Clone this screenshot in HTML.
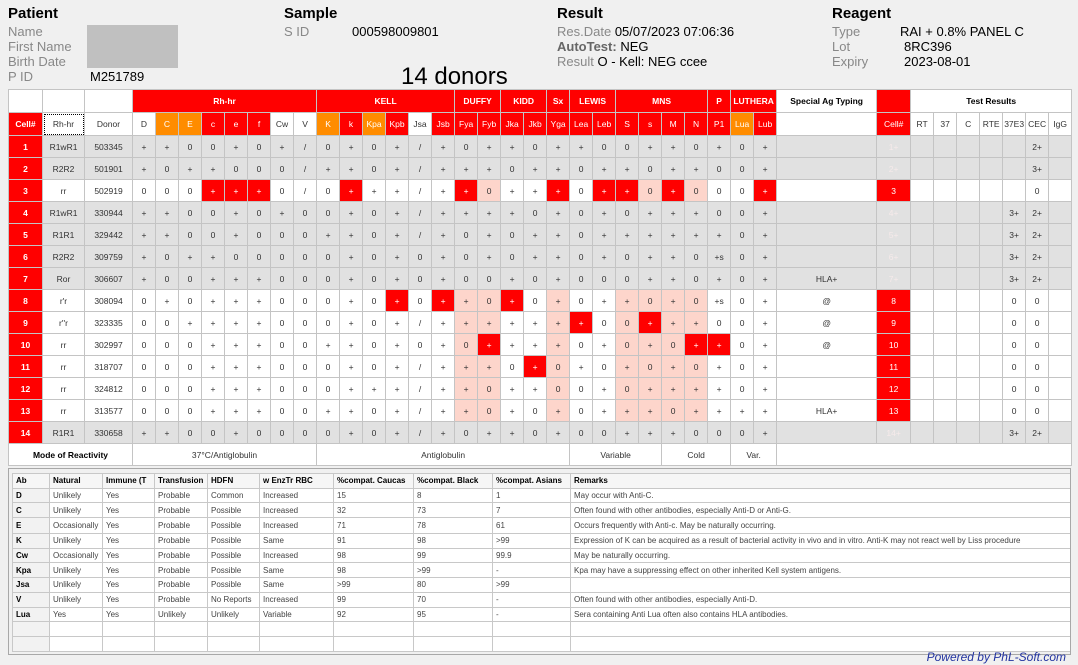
<!DOCTYPE html>
<html><head><meta charset="utf-8">
<style>
body{margin:0;width:1078px;height:665px;background:#f0f0f0;font-family:"Liberation Sans",sans-serif;position:relative;overflow:hidden}
.a{position:absolute;white-space:nowrap}
.h{font-weight:bold;font-size:15px;color:#000}
.l{font-size:13px;color:#888}
.v{font-size:13px;color:#000}
#m{position:absolute;left:8px;top:89px;border-collapse:collapse;table-layout:fixed;width:1063px;font-size:8.5px;color:#333;border:1px solid #a0a0a0}
#m td{border:1px solid #c4c4c4;text-align:center;padding:0;height:21px;overflow:hidden;white-space:nowrap;background:#fff}
#m tr.hd td{height:22px}
#m tr.g td{background:#e1e1e1}
#m td.r,#m tr.g td.r{background:#f00;color:#fff}
#m td.o{background:#ff8c00;color:#fff}
#m td.p{background:#fdd5cb}
#m td.c,#m tr.g td.c{background:#f00;color:#fff;font-weight:bold}
#m tr.g td.f{color:#f6eaea}
#m td.b{font-weight:bold;color:#000}
#t{position:absolute;left:12px;top:473px;border-collapse:collapse;table-layout:fixed;width:1058px;font-size:8px;color:#444;background:#fff;border:1px solid #a0a0a0}
#t td{border:1px solid #c8c8c8;height:13.7px;padding:0 0 0 3px;white-space:nowrap;overflow:hidden}
#t tr:first-child td{font-weight:bold;color:#000;background:#f6f6f6}
#t td:first-child{font-weight:bold;color:#000;background:#f2f2f2}
</style></head><body>
<div class="a h" style="left:8px;top:5px">Patient</div>
<div class="a l" style="left:8px;top:24px">Name</div>
<div class="a l" style="left:8px;top:39px">First Name</div>
<div class="a l" style="left:8px;top:54px">Birth Date</div>
<div class="a l" style="left:8px;top:69px">P ID</div>
<div class="a v" style="left:90px;top:69px">M251789</div>
<div class="a" style="left:87px;top:25px;width:91px;height:43px;background:#c0c0c0"></div>
<div class="a h" style="left:284px;top:5px">Sample</div>
<div class="a l" style="left:284px;top:24px">S ID</div>
<div class="a v" style="left:352px;top:24px">000598009801</div>
<div class="a" style="left:401px;top:63px;font-size:24px;color:#000">14 donors</div>
<div class="a h" style="left:557px;top:5px">Result</div>
<div class="a l" style="left:557px;top:24px">Res.Date <span style="color:#000">05/07/2023 07:06:36</span></div>
<div class="a l" style="left:557px;top:39px"><b style="color:#666">AutoTest:</b> <span style="color:#000">NEG</span></div>
<div class="a l" style="left:557px;top:54px">Result <span style="color:#000">O - Kell: NEG ccee</span></div>
<div class="a h" style="left:832px;top:5px">Reagent</div>
<div class="a l" style="left:832px;top:24px">Type</div>
<div class="a v" style="left:900px;top:24px">RAI + 0.8% PANEL C</div>
<div class="a l" style="left:832px;top:39px">Lot</div>
<div class="a v" style="left:904px;top:39px">8RC396</div>
<div class="a l" style="left:832px;top:54px">Expiry</div>
<div class="a v" style="left:904px;top:54px">2023-08-01</div>

<table id="m">
<colgroup><col style="width:34px"><col style="width:42px"><col style="width:48px">
<col span="28" style="width:23px"><col style="width:100px"><col style="width:34px"><col span="7" style="width:23px"></colgroup>
<tr class="hd"><td></td><td></td><td></td><td class="c" colspan="8">Rh-hr</td><td class="c" colspan="6">KELL</td><td class="c" colspan="2">DUFFY</td><td class="c" colspan="2">KIDD</td><td class="c">Sx</td><td class="c" colspan="2">LEWIS</td><td class="c" colspan="4">MNS</td><td class="c">P</td><td class="c" colspan="2">LUTHERA</td><td class="b">Special Ag Typing</td><td class="r"></td><td class="b" colspan="7">Test Results</td></tr>
<tr class="hd"><td class="c">Cell#</td><td style="outline:1px dotted #000;outline-offset:-2px">Rh-hr</td><td>Donor</td><td>D</td><td class="o">C</td><td class="o">E</td><td class="r">c</td><td class="r">e</td><td class="r">f</td><td>Cw</td><td>V</td><td class="o">K</td><td class="r">k</td><td class="o">Kpa</td><td class="r">Kpb</td><td>Jsa</td><td class="r">Jsb</td><td class="r">Fya</td><td class="r">Fyb</td><td class="r">Jka</td><td class="r">Jkb</td><td class="r">Yga</td><td class="r">Lea</td><td class="r">Leb</td><td class="r">S</td><td class="r">s</td><td class="r">M</td><td class="r">N</td><td class="r">P1</td><td class="o">Lua</td><td class="r">Lub</td><td></td><td class="r">Cell#</td><td>RT</td><td>37</td><td>C</td><td>RTE</td><td>37E3</td><td>CEC</td><td>IgG</td></tr>
<tr class="g"><td class="c">1</td><td>R1wR1</td><td>503345</td><td>+</td><td>+</td><td>0</td><td>0</td><td>+</td><td>0</td><td>+</td><td>/</td><td>0</td><td>+</td><td>0</td><td>+</td><td>/</td><td>+</td><td>0</td><td>+</td><td>+</td><td>0</td><td>+</td><td>+</td><td>0</td><td>0</td><td>+</td><td>+</td><td>0</td><td>+</td><td>0</td><td>+</td><td></td><td class="f">1+</td><td></td><td></td><td></td><td></td><td></td><td>2+</td><td></td></tr>
<tr class="g"><td class="c">2</td><td>R2R2</td><td>501901</td><td>+</td><td>0</td><td>+</td><td>+</td><td>0</td><td>0</td><td>0</td><td>/</td><td>+</td><td>+</td><td>0</td><td>+</td><td>/</td><td>+</td><td>+</td><td>+</td><td>0</td><td>+</td><td>+</td><td>0</td><td>+</td><td>+</td><td>0</td><td>+</td><td>+</td><td>0</td><td>0</td><td>+</td><td></td><td class="f">2+</td><td></td><td></td><td></td><td></td><td></td><td>3+</td><td></td></tr>
<tr><td class="c">3</td><td>rr</td><td>502919</td><td>0</td><td>0</td><td>0</td><td class="r">+</td><td class="r">+</td><td class="r">+</td><td>0</td><td>/</td><td>0</td><td class="r">+</td><td>+</td><td>+</td><td>/</td><td>+</td><td class="r">+</td><td class="p">0</td><td>+</td><td>+</td><td class="r">+</td><td>0</td><td class="r">+</td><td class="r">+</td><td class="p">0</td><td class="r">+</td><td class="p">0</td><td>0</td><td>0</td><td class="r">+</td><td></td><td class="r">3</td><td></td><td></td><td></td><td></td><td></td><td>0</td><td></td></tr>
<tr class="g"><td class="c">4</td><td>R1wR1</td><td>330944</td><td>+</td><td>+</td><td>0</td><td>0</td><td>+</td><td>0</td><td>+</td><td>0</td><td>0</td><td>+</td><td>0</td><td>+</td><td>/</td><td>+</td><td>+</td><td>+</td><td>+</td><td>0</td><td>+</td><td>0</td><td>+</td><td>0</td><td>+</td><td>+</td><td>+</td><td>0</td><td>0</td><td>+</td><td></td><td class="f">4+</td><td></td><td></td><td></td><td></td><td>3+</td><td>2+</td><td></td></tr>
<tr class="g"><td class="c">5</td><td>R1R1</td><td>329442</td><td>+</td><td>+</td><td>0</td><td>0</td><td>+</td><td>0</td><td>0</td><td>0</td><td>+</td><td>+</td><td>0</td><td>+</td><td>/</td><td>+</td><td>0</td><td>+</td><td>0</td><td>+</td><td>+</td><td>0</td><td>+</td><td>+</td><td>+</td><td>+</td><td>+</td><td>+</td><td>0</td><td>+</td><td></td><td class="f">5+</td><td></td><td></td><td></td><td></td><td>3+</td><td>2+</td><td></td></tr>
<tr class="g"><td class="c">6</td><td>R2R2</td><td>309759</td><td>+</td><td>0</td><td>+</td><td>+</td><td>0</td><td>0</td><td>0</td><td>0</td><td>0</td><td>+</td><td>0</td><td>+</td><td>0</td><td>+</td><td>0</td><td>+</td><td>0</td><td>+</td><td>+</td><td>0</td><td>+</td><td>0</td><td>+</td><td>+</td><td>0</td><td>+s</td><td>0</td><td>+</td><td></td><td class="f">6+</td><td></td><td></td><td></td><td></td><td>3+</td><td>2+</td><td></td></tr>
<tr class="g"><td class="c">7</td><td>Ror</td><td>306607</td><td>+</td><td>0</td><td>0</td><td>+</td><td>+</td><td>+</td><td>0</td><td>0</td><td>0</td><td>+</td><td>0</td><td>+</td><td>0</td><td>+</td><td>0</td><td>0</td><td>+</td><td>0</td><td>+</td><td>0</td><td>0</td><td>0</td><td>+</td><td>+</td><td>0</td><td>+</td><td>0</td><td>+</td><td>HLA+</td><td class="f">7+</td><td></td><td></td><td></td><td></td><td>3+</td><td>2+</td><td></td></tr>
<tr><td class="c">8</td><td>r'r</td><td>308094</td><td>0</td><td>+</td><td>0</td><td>+</td><td>+</td><td>+</td><td>0</td><td>0</td><td>0</td><td>+</td><td>0</td><td class="r">+</td><td>0</td><td class="r">+</td><td class="p">+</td><td class="p">0</td><td class="r">+</td><td>0</td><td class="p">+</td><td>0</td><td>+</td><td class="p">+</td><td class="p">0</td><td class="p">+</td><td class="p">0</td><td>+s</td><td>0</td><td>+</td><td>@</td><td class="r">8</td><td></td><td></td><td></td><td></td><td>0</td><td>0</td><td></td></tr>
<tr><td class="c">9</td><td>r''r</td><td>323335</td><td>0</td><td>0</td><td>+</td><td>+</td><td>+</td><td>+</td><td>0</td><td>0</td><td>0</td><td>+</td><td>0</td><td>+</td><td>/</td><td>+</td><td class="p">+</td><td class="p">+</td><td>+</td><td>+</td><td class="p">+</td><td class="r">+</td><td>0</td><td class="p">0</td><td class="r">+</td><td class="p">+</td><td class="p">+</td><td>0</td><td>0</td><td>+</td><td>@</td><td class="r">9</td><td></td><td></td><td></td><td></td><td>0</td><td>0</td><td></td></tr>
<tr><td class="c">10</td><td>rr</td><td>302997</td><td>0</td><td>0</td><td>0</td><td>+</td><td>+</td><td>+</td><td>0</td><td>0</td><td>+</td><td>+</td><td>0</td><td>+</td><td>0</td><td>+</td><td class="p">0</td><td class="r">+</td><td>+</td><td>+</td><td class="p">+</td><td>0</td><td>+</td><td class="p">0</td><td class="p">+</td><td class="p">0</td><td class="r">+</td><td class="r">+</td><td>0</td><td>+</td><td>@</td><td class="r">10</td><td></td><td></td><td></td><td></td><td>0</td><td>0</td><td></td></tr>
<tr><td class="c">11</td><td>rr</td><td>318707</td><td>0</td><td>0</td><td>0</td><td>+</td><td>+</td><td>+</td><td>0</td><td>0</td><td>0</td><td>+</td><td>0</td><td>+</td><td>/</td><td>+</td><td class="p">+</td><td class="p">+</td><td>0</td><td class="r">+</td><td class="p">0</td><td>+</td><td>0</td><td class="p">+</td><td class="p">0</td><td class="p">+</td><td class="p">0</td><td>+</td><td>0</td><td>+</td><td></td><td class="r">11</td><td></td><td></td><td></td><td></td><td>0</td><td>0</td><td></td></tr>
<tr><td class="c">12</td><td>rr</td><td>324812</td><td>0</td><td>0</td><td>0</td><td>+</td><td>+</td><td>+</td><td>0</td><td>0</td><td>0</td><td>+</td><td>+</td><td>+</td><td>/</td><td>+</td><td class="p">+</td><td class="p">0</td><td>+</td><td>+</td><td class="p">0</td><td>0</td><td>+</td><td class="p">0</td><td class="p">+</td><td class="p">+</td><td class="p">+</td><td>+</td><td>0</td><td>+</td><td></td><td class="r">12</td><td></td><td></td><td></td><td></td><td>0</td><td>0</td><td></td></tr>
<tr><td class="c">13</td><td>rr</td><td>313577</td><td>0</td><td>0</td><td>0</td><td>+</td><td>+</td><td>+</td><td>0</td><td>0</td><td>+</td><td>+</td><td>0</td><td>+</td><td>/</td><td>+</td><td class="p">+</td><td class="p">0</td><td>+</td><td>0</td><td class="p">+</td><td>0</td><td>+</td><td class="p">+</td><td class="p">+</td><td class="p">0</td><td class="p">+</td><td>+</td><td>+</td><td>+</td><td>HLA+</td><td class="r">13</td><td></td><td></td><td></td><td></td><td>0</td><td>0</td><td></td></tr>
<tr class="g"><td class="c">14</td><td>R1R1</td><td>330658</td><td>+</td><td>+</td><td>0</td><td>0</td><td>+</td><td>0</td><td>0</td><td>0</td><td>0</td><td>+</td><td>0</td><td>+</td><td>/</td><td>+</td><td>0</td><td>+</td><td>+</td><td>0</td><td>+</td><td>0</td><td>0</td><td>+</td><td>+</td><td>+</td><td>0</td><td>0</td><td>0</td><td>+</td><td></td><td class="f">14+</td><td></td><td></td><td></td><td></td><td>3+</td><td>2+</td><td></td></tr>
<tr><td class="b" colspan="3">Mode of Reactivity</td><td colspan="8">37°C/Antiglobulin</td><td colspan="11">Antiglobulin</td><td colspan="4">Variable</td><td colspan="3">Cold</td><td colspan="2">Var.</td><td colspan="9"></td></tr>
</table>

<table id="t">
<colgroup><col style="width:37px"><col style="width:53px"><col style="width:52px"><col style="width:53px"><col style="width:52px"><col style="width:74px"><col style="width:80px"><col style="width:79px"><col style="width:78px"><col style="width:500px"></colgroup>
<tr><td>Ab</td><td>Natural</td><td>Immune (T</td><td>Transfusion</td><td>HDFN</td><td>w EnzTr RBC</td><td>%compat. Caucas</td><td>%compat. Black</td><td>%compat. Asians</td><td>Remarks</td></tr>
<tr><td>D</td><td>Unlikely</td><td>Yes</td><td>Probable</td><td>Common</td><td>Increased</td><td>15</td><td>8</td><td>1</td><td>May occur with Anti-C.</td></tr>
<tr><td>C</td><td>Unlikely</td><td>Yes</td><td>Probable</td><td>Possible</td><td>Increased</td><td>32</td><td>73</td><td>7</td><td>Often found with other antibodies, especially Anti-D or Anti-G.</td></tr>
<tr><td style="height:15px">E</td><td>Occasionally</td><td>Yes</td><td>Probable</td><td>Possible</td><td>Increased</td><td>71</td><td>78</td><td>61</td><td>Occurs frequently with Anti-c. May be naturally occurring.</td></tr>
<tr><td>K</td><td>Unlikely</td><td>Yes</td><td>Probable</td><td>Possible</td><td>Same</td><td>91</td><td>98</td><td>&gt;99</td><td>Expression of K can be acquired as a result of bacterial activity in vivo and in vitro. Anti-K may not react well by Liss procedure</td></tr>
<tr><td>Cw</td><td>Occasionally</td><td>Yes</td><td>Probable</td><td>Possible</td><td>Increased</td><td>98</td><td>99</td><td>99.9</td><td>May be naturally occurring.</td></tr>
<tr><td>Kpa</td><td>Unlikely</td><td>Yes</td><td>Probable</td><td>Possible</td><td>Same</td><td>98</td><td>&gt;99</td><td>-</td><td>Kpa may have a suppressing effect on other inherited Kell system antigens.</td></tr>
<tr><td>Jsa</td><td>Unlikely</td><td>Yes</td><td>Probable</td><td>Possible</td><td>Same</td><td>&gt;99</td><td>80</td><td>&gt;99</td><td></td></tr>
<tr><td>V</td><td>Unlikely</td><td>Yes</td><td>Probable</td><td>No Reports</td><td>Increased</td><td>99</td><td>70</td><td>-</td><td>Often found with other antibodies, especially Anti-D.</td></tr>
<tr><td>Lua</td><td>Yes</td><td>Yes</td><td>Unlikely</td><td>Unlikely</td><td>Variable</td><td>92</td><td>95</td><td>-</td><td>Sera containing Anti Lua often also contains HLA antibodies.</td></tr>
<tr><td></td><td></td><td></td><td></td><td></td><td></td><td></td><td></td><td></td><td></td></tr>
<tr><td></td><td></td><td></td><td></td><td></td><td></td><td></td><td></td><td></td><td></td></tr>
</table>
<div class="a" style="left:8px;top:468px;width:1061px;height:185px;border:1px solid #a8a8a8;pointer-events:none"></div>
<div class="a" style="right:12px;top:650px;font-size:12px;font-style:italic;color:#2233a0">Powered by PhL-Soft.com</div>
</body></html>
